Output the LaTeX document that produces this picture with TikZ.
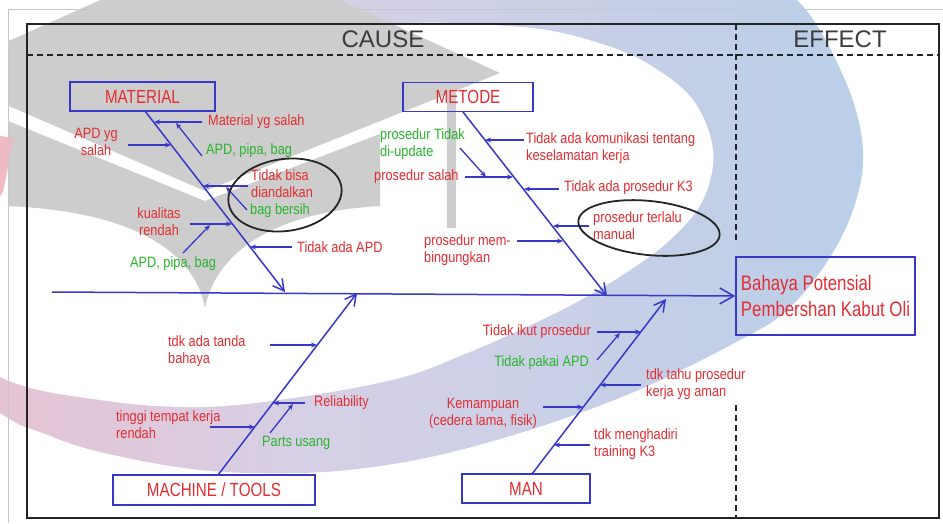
\documentclass[tikz,border=0pt]{standalone}
\usepackage{fontspec}
\setmainfont{Liberation Sans}
\newfontfamily\notefont[FakeStretch=0.85]{Liberation Sans}
\newfontfamily\boxfont[FakeStretch=0.8]{Liberation Sans}
\usetikzlibrary{arrows.meta}

\definecolor{bonered}{RGB}{228,45,50}
\definecolor{bonegreen}{RGB}{40,180,45}
\definecolor{boneblue}{RGB}{55,55,200}
\definecolor{framegray}{RGB}{35,35,35}
\definecolor{headgray}{RGB}{60,60,60}
\definecolor{marklogo}{RGB}{205,205,205}
\definecolor{ringpink}{RGB}{240,186,196}
\definecolor{ringmid}{RGB}{214,208,230}
\definecolor{ringblue}{RGB}{186,207,232}

\begin{document}
\begin{tikzpicture}[x=1pt,y=-1pt,
  every node/.style={inner sep=0pt},
  note/.style={font=\notefont\fontsize{15}{17}\selectfont, text=bonered, align=left},
  greennote/.style={note, text=bonegreen},
  catbox/.style={draw=boneblue, line width=1.5pt, text=bonered,
    font=\boxfont\fontsize{19}{20}\selectfont, minimum height=29pt},
  bone/.style={draw=boneblue, line width=1.5pt, -{Straight Barb[length=11pt,width=12pt]}},
  spineline/.style={draw=boneblue, line width=1.5pt, -{Straight Barb[length=14pt,width=16pt]}},
  twig/.style={draw=boneblue, line width=1.3pt, -{Stealth[length=6pt,width=5pt]}},
  dashline/.style={draw=framegray, line width=1.6pt, dash pattern=on 6pt off 4pt},
  heading/.style={font=\fontsize{24}{26}\selectfont, text=headgray},
  loop/.style={draw=black!85, line width=1.8pt}
]
\useasboundingbox (0,0) rectangle (943,523);
\clip (0,0) rectangle (943,523);

% watermark: swoosh ring
\shade[left color=ringpink, right color=ringblue, middle color=ringmid]
  plot[smooth cycle, tension=0.6] coordinates {
    (720,-40) (797,0) (845,80) (863,150) (853,210) (825,265) (785,312)
    (740,340) (650,385) (560,420) (460,450) (380,466) (300,473) (200,470)
    (100,452) (40,432) (0,413) (-120,330) (-230,180) (-200,20) (-50,-90) (250,-130) (550,-100)};
\fill[white]
  plot[smooth cycle, tension=0.6] coordinates {
    (200,-30) (340,18) (450,23) (540,29) (605,45) (650,65) (693,100) (713,150)
    (703,200) (670,240) (627,272) (577,302) (520,330) (460,356) (400,378)
    (300,397) (200,407) (100,400) (0,377) (-90,310) (-160,180) (-110,40) (40,-40)};

% watermark: cap and book
\begin{scope}
  \clip (8,-10) rectangle (943,523);
  \fill[marklogo] (-65,74) -- (221,-54) -- (500,73) -- (205,191) -- cycle;
  \fill[marklogo] (205,201) -- (380,134) -- (380,206)
    .. controls (270,212) and (215,255) .. (205,308)
    .. controls (195,255) and (140,212) .. (8,206) -- (8,121) -- cycle;
  \fill[marklogo] (447,92) rectangle (456,228);
\end{scope}
\fill[ringpink] (0,136) -- (14,138) -- (3,192) -- (0,196) -- cycle;

% page edge and frame
\draw[black!22, line width=0.8pt] (8,523) -- (8,9) -- (943,9);
\draw[framegray, line width=2.2pt] (27,24) rectangle (939,518);
\draw[dashline] (27,55) -- (939,55);
\draw[dashline] (736,24) -- (736,240);
\draw[dashline] (736,405) -- (736,518);
\node[heading] (cause) at (383,39) {CAUSE};
\node[heading] (effect) at (840,39) {EFFECT};

% category boxes and effect
\node[catbox, minimum width=145pt] (mat) at (142.5,96.5) {MATERIAL};
\node[catbox, minimum width=130pt] (met) at (468,97) {METODE};
\node[catbox, minimum width=202pt, minimum height=30pt] (mac) at (214,490) {MACHINE / TOOLS};
\node[catbox, minimum width=128pt] (man) at (526,488.5) {MAN};
\node[draw=boneblue, line width=1.5pt, text=bonered, font=\boxfont\fontsize{21}{26}\selectfont,
  align=left, minimum width=179pt, minimum height=78pt] (eff)
  at (825.5,296) {Bahaya Potensial\\Pembershan Kabut Oli};

% spine and main bones
\coordinate (spineTail) at (52,292);
\coordinate (matRoot) at (145,111);
\coordinate (matHead) at (285,292);
\coordinate (metRoot) at (463,112);
\coordinate (metHead) at (607,296);
\coordinate (macRoot) at (218,475);
\coordinate (macHead) at (357,293);
\coordinate (manRoot) at (532,474);
\coordinate (manHead) at (666,299);
\draw[spineline] (spineTail) -- (eff.west);
\draw[bone] (matRoot) -- (matHead);
\draw[bone] (metRoot) -- (metHead);
\draw[bone] (macRoot) -- (macHead);
\draw[bone] (manRoot) -- (manHead);

% MATERIAL causes
\node[note, anchor=west] (m1) at (208,122) {Material yg salah};
\coordinate (m1a) at (202,122); \coordinate (m1b) at (154,122);
\draw[twig] (m1a) -- (m1b);
\node[greennote, anchor=west] (m1g) at (206,151) {APD, pipa, bag};
\coordinate (m1ga) at (202,156); \coordinate (m1gb) at (176,123);
\draw[twig] (m1ga) -- (m1gb);
\node[note, align=center] (m2) at (96,142) {APD yg\\salah};
\coordinate (m2a) at (128,145); \coordinate (m2b) at (171,145);
\draw[twig] (m2a) -- (m2b);
\node[note, anchor=west] (m3) at (251,183.5) {Tidak bisa\\diandalkan};
\coordinate (m3a) at (248,186); \coordinate (m3b) at (203,186);
\draw[twig] (m3a) -- (m3b);
\node[greennote, anchor=west] (m3g) at (250,211) {bag bersih};
\coordinate (m3ga) at (247,210); \coordinate (m3gb) at (226,187);
\draw[twig] (m3ga) -- (m3gb);
\node[note, align=center] (m4) at (159,221.5) {kualitas\\rendah};
\coordinate (m4a) at (190,224); \coordinate (m4b) at (232,224);
\draw[twig] (m4a) -- (m4b);
\node[greennote, anchor=west] (m4g) at (130,264) {APD, pipa, bag};
\coordinate (m4ga) at (183,253); \coordinate (m4gb) at (210,225);
\draw[twig] (m4ga) -- (m4gb);
\node[note, anchor=west] (m5) at (297,247) {Tidak ada APD};
\coordinate (m5a) at (292,247); \coordinate (m5b) at (250,247);
\draw[twig] (m5a) -- (m5b);
\draw[loop, rotate around={8:(285,195)}] (285,195) ellipse [x radius=57pt, y radius=36pt];

% METODE causes
\node[note, anchor=west] (t1) at (526,148.5) {Tidak ada komunikasi tentang\\keselamatan kerja};
\coordinate (t1a) at (524,140); \coordinate (t1b) at (485,140);
\draw[twig] (t1a) -- (t1b);
\node[greennote, anchor=west] (t2) at (380,144.5) {prosedur Tidak\\di-update};
\coordinate (t2a) at (460,148); \coordinate (t2b) at (486,177);
\draw[twig] (t2a) -- (t2b);
\node[note, anchor=west] (t3) at (374,177) {prosedur salah};
\coordinate (t3a) at (465,177); \coordinate (t3b) at (513,177);
\draw[twig] (t3a) -- (t3b);
\node[note, anchor=west] (t4) at (564,188) {Tidak ada prosedur K3};
\coordinate (t4a) at (559,189); \coordinate (t4b) at (524,189);
\draw[twig] (t4a) -- (t4b);
\node[note, anchor=west] (t5) at (593,225.5) {prosedur terlalu\\manual};
\coordinate (t5a) at (589,226); \coordinate (t5b) at (553,226);
\draw[twig] (t5a) -- (t5b);
\node[note, anchor=west] (t6) at (424,250) {prosedur mem-\\bingungkan};
\coordinate (t6a) at (517,241); \coordinate (t6b) at (563,241);
\draw[twig] (t6a) -- (t6b);
\draw[loop, rotate around={-6:(649,228)}] (649,228) ellipse [x radius=71pt, y radius=27pt];

% MACHINE / TOOLS causes
\node[note, anchor=west] (c1) at (168,351.5) {tdk ada tanda\\bahaya};
\coordinate (c1a) at (270,345); \coordinate (c1b) at (317,345);
\draw[twig] (c1a) -- (c1b);
\node[note, anchor=west] (c2) at (314,403) {Reliability};
\coordinate (c2a) at (305,403); \coordinate (c2b) at (273,403);
\draw[twig] (c2a) -- (c2b);
\node[greennote, anchor=west] (c2g) at (262,443) {Parts usang};
\coordinate (c2ga) at (270,433); \coordinate (c2gb) at (293,404);
\draw[twig] (c2ga) -- (c2gb);
\node[note, anchor=west] (c3) at (116,425) {tinggi tempat kerja\\rendah};
\coordinate (c3a) at (210,427); \coordinate (c3b) at (255,427);
\draw[twig] (c3a) -- (c3b);

% MAN causes
\node[note, anchor=east] (n1) at (591,332) {Tidak ikut prosedur};
\coordinate (n1a) at (597,332); \coordinate (n1b) at (641,332);
\draw[twig] (n1a) -- (n1b);
\node[greennote, anchor=east] (n1g) at (589,363) {Tidak pakai APD};
\coordinate (n1ga) at (597,360); \coordinate (n1gb) at (620,333);
\draw[twig] (n1ga) -- (n1gb);
\node[note, anchor=west] (n2) at (646,384) {tdk tahu prosedur\\kerja yg aman};
\coordinate (n2a) at (641,385); \coordinate (n2b) at (600,385);
\draw[twig] (n2a) -- (n2b);
\node[note, align=center] (n3) at (483,413.5) {Kemampuan\\(cedera lama, fisik)};
\coordinate (n3a) at (543,407); \coordinate (n3b) at (583,407);
\draw[twig] (n3a) -- (n3b);
\node[note, anchor=west] (n4) at (594,444) {tdk menghadiri\\training K3};
\coordinate (n4a) at (590,445); \coordinate (n4b) at (554,445);
\draw[twig] (n4a) -- (n4b);
\end{tikzpicture}
\end{document}
